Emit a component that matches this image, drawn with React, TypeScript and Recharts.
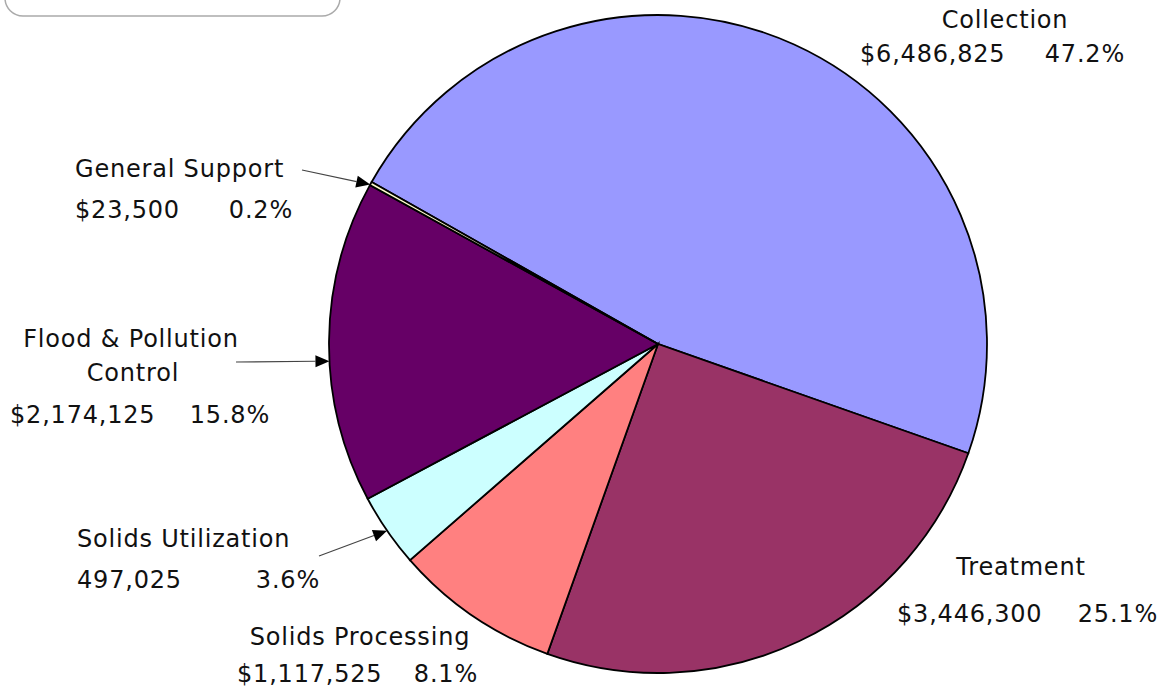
import React from "react";
import { PieChart, Pie, Cell } from "recharts";

// slices in clockwise order starting from the top-left boundary
const categories = [
  "Collection",
  "Treatment",
  "Solids Processing",
  "Solids Utilization",
  "Flood & Pollution Control",
  "General Support",
];
const amounts = [6486825, 3446300, 1117525, 497025, 2174125, 23500];
const amountLabels = [
  "$6,486,825",
  "$3,446,300",
  "$1,117,525",
  "497,025",
  "$2,174,125",
  "$23,500",
];
const COLORS = ["#9999FF", "#993366", "#FF8080", "#CCFFFF", "#660066", "#FFFFCC"];

const data = categories.map((name, i) => ({ name, value: amounts[i] }));

const RADIAN = Math.PI / 180;
const FONT = "'DejaVu Sans', Verdana, sans-serif";

type TitleLine = { text: string; x: number; y: number; anchor: "start" | "middle" | "end" };
type LabelLayout = {
  title: TitleLine[];
  value: { x: number; y: number };
  pct: { x: number; y: number };
  arrow?: { x: number; y: number; angleOffset: number };
};

// text placement for each slice (same order as categories)
const LAYOUT: LabelLayout[] = [
  {
    title: [{ text: "Collection", x: 1005, y: 28, anchor: "middle" }],
    value: { x: 860, y: 62 },
    pct: { x: 1125, y: 62 },
  },
  {
    title: [{ text: "Treatment", x: 1021, y: 575, anchor: "middle" }],
    value: { x: 897, y: 622 },
    pct: { x: 1158, y: 622 },
  },
  {
    title: [{ text: "Solids Processing", x: 360, y: 645, anchor: "middle" }],
    value: { x: 237, y: 682 },
    pct: { x: 478, y: 682 },
  },
  {
    title: [{ text: "Solids Utilization", x: 77, y: 547, anchor: "start" }],
    value: { x: 77, y: 588 },
    pct: { x: 320, y: 588 },
    arrow: { x: 319, y: 556, angleOffset: 0 },
  },
  {
    title: [
      { text: "Flood & Pollution", x: 131, y: 347, anchor: "middle" },
      { text: "Control", x: 133, y: 381, anchor: "middle" },
    ],
    value: { x: 10, y: 423 },
    pct: { x: 270, y: 423 },
    arrow: { x: 236, y: 362, angleOffset: 3.4 },
  },
  {
    title: [{ text: "General Support", x: 75, y: 177, anchor: "start" }],
    value: { x: 75, y: 218 },
    pct: { x: 293, y: 218 },
    arrow: { x: 302, y: 170, angleOffset: 0.2 },
  },
];

const renderLabel = (props: any) => {
  const { cx, cy, midAngle, outerRadius, percent, index } = props;
  const lay = LAYOUT[index];
  if (!lay) return null;
  const textProps = { fontFamily: FONT, fontSize: 24, fill: "#111", letterSpacing: 0.8 };
  let arrow = null;
  if (lay.arrow) {
    const a = (midAngle + lay.arrow.angleOffset) * RADIAN;
    const tx = cx + outerRadius * Math.cos(-a);
    const ty = cy + outerRadius * Math.sin(-a);
    const dx = tx - lay.arrow.x;
    const dy = ty - lay.arrow.y;
    const len = Math.sqrt(dx * dx + dy * dy);
    const ux = dx / len;
    const uy = dy / len;
    const hl = 14;
    const hw = 6;
    const bx = tx - ux * hl;
    const by = ty - uy * hl;
    arrow = (
      <g>
        <line x1={lay.arrow.x} y1={lay.arrow.y} x2={bx} y2={by} stroke="#444" strokeWidth={1.2} />
        <polygon
          points={`${tx},${ty} ${bx - uy * hw},${by + ux * hw} ${bx + uy * hw},${by - ux * hw}`}
          fill="#000"
        />
      </g>
    );
  }
  return (
    <g key={`label-${index}`}>
      {lay.title.map((t, i) => (
        <text key={i} x={t.x} y={t.y} textAnchor={t.anchor} {...textProps}>
          {t.text}
        </text>
      ))}
      <text x={lay.value.x} y={lay.value.y} textAnchor="start" {...textProps}>
        {amountLabels[index]}
      </text>
      <text x={lay.pct.x} y={lay.pct.y} textAnchor="end" {...textProps}>
        {`${(percent * 100).toFixed(1)}%`}
      </text>
      {arrow}
    </g>
  );
};

const App = () => {
  return (
    <div style={{ position: "absolute", left: 0, top: 0, background: "#fff" }}>
      <PieChart width={1163} height={690} margin={{ top: 0, right: 0, bottom: 0, left: 0 }}>
        <rect x={5} y={-40} width={335} height={56} rx={18} ry={18} fill="none" stroke="#aaa" strokeWidth={1.5} />
        <Pie
          data={data}
          dataKey="value"
          nameKey="name"
          cx={658}
          cy={344}
          outerRadius={329}
          startAngle={150.5}
          endAngle={-209.5}
          stroke="#000"
          strokeWidth={1.8}
          label={renderLabel}
          labelLine={false}
          isAnimationActive={false}
        >
          {data.map((entry, index) => (
            <Cell key={`cell-${index}`} fill={COLORS[index % COLORS.length]} />
          ))}
        </Pie>
      </PieChart>
    </div>
  );
};

export default App;
